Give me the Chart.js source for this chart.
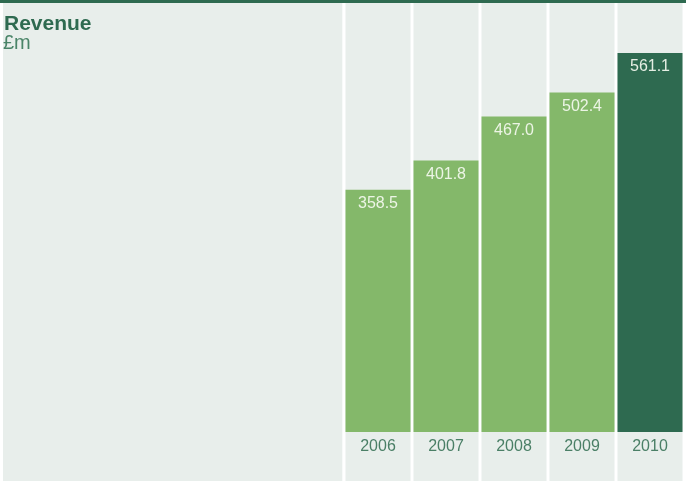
<!DOCTYPE html>
<html>
<head>
<meta charset="utf-8">
<script src="https://cdn.jsdelivr.net/npm/chart.js@4.4.0/dist/chart.umd.min.js"></script>
<style>
  html, body { margin: 0; padding: 0; background: #ffffff; }
  #wrap { width: 686px; height: 481px; }
</style>
</head>
<body>
<div id="wrap"><canvas id="c" width="686" height="481"></canvas></div>
<script>
const categories = ['2006', '2007', '2008', '2009', '2010'];
const revenue = [358.5, 401.8, 467.0, 502.4, 561.1];
const valueLabels = ['358.5', '401.8', '467.0', '502.4', '561.1'];
const titleText = 'Revenue';
const unitText = '£m';

const LIGHT = '#84b86a';
const DARK = '#2e6a50';
const PANEL = '#e8eeeb';
const FONT = '"Liberation Sans", Arial, Helvetica, sans-serif';

const backdrop = {
  id: 'backdrop',
  beforeDraw(chart) {
    const ctx = chart.ctx;
    ctx.save();
    ctx.fillStyle = '#ffffff';
    ctx.fillRect(0, 0, chart.width, chart.height);
    ctx.fillStyle = PANEL;
    ctx.fillRect(3, 3, 339.3, chart.height - 3);
    const meta = chart.getDatasetMeta(0);
    meta.data.forEach(bar => {
      const w = bar.width;
      ctx.fillRect(bar.x - w / 2, 3, w, chart.height - 3);
    });
    ctx.fillStyle = DARK;
    ctx.fillRect(0, 0, chart.width, 3);
    // title
    ctx.fillStyle = DARK;
    ctx.textBaseline = 'alphabetic';
    ctx.textAlign = 'left';
    ctx.font = 'bold 21px ' + FONT;
    ctx.fillText(titleText, 4, 30);
    ctx.fillStyle = '#4a8468';
    ctx.font = '20px ' + FONT;
    ctx.fillText(unitText, 3, 49);
    ctx.restore();
  },
  afterDatasetsDraw(chart) {
    const ctx = chart.ctx;
    const meta = chart.getDatasetMeta(0);
    ctx.save();
    ctx.font = '16px ' + FONT;
    ctx.textAlign = 'center';
    ctx.textBaseline = 'middle';
    ctx.fillStyle = 'rgba(245,250,240,0.92)';
    meta.data.forEach((bar, i) => {
      ctx.fillText(valueLabels[i], bar.x, bar.y + 14);
    });
    ctx.restore();
  }
};

new Chart(document.getElementById('c'), {
  type: 'bar',
  data: {
    labels: categories,
    datasets: [{
      data: revenue,
      backgroundColor: revenue.map((v, i) => i === revenue.length - 1 ? DARK : LIGHT),
      borderWidth: 0,
      categoryPercentage: 65 / 68,
      barPercentage: 1.0
    }]
  },
  options: {
    responsive: false,
    animation: false,
    devicePixelRatio: 1,
    layout: { padding: { left: 344, right: 2, top: 3, bottom: 0 } },
    plugins: {
      legend: { display: false },
      tooltip: { enabled: false },
      title: { display: false }
    },
    scales: {
      x: {
        grid: { display: false, drawTicks: false },
        border: { display: false },
        ticks: {
          color: '#4a7f66',
          font: { family: FONT, size: 16 },
          padding: 5,
          maxRotation: 0
        },
        afterFit(scale) { scale.height = 49; }
      },
      y: {
        display: false,
        min: 0,
        max: 635
      }
    }
  },
  plugins: [backdrop]
});
</script>
</body>
</html>
